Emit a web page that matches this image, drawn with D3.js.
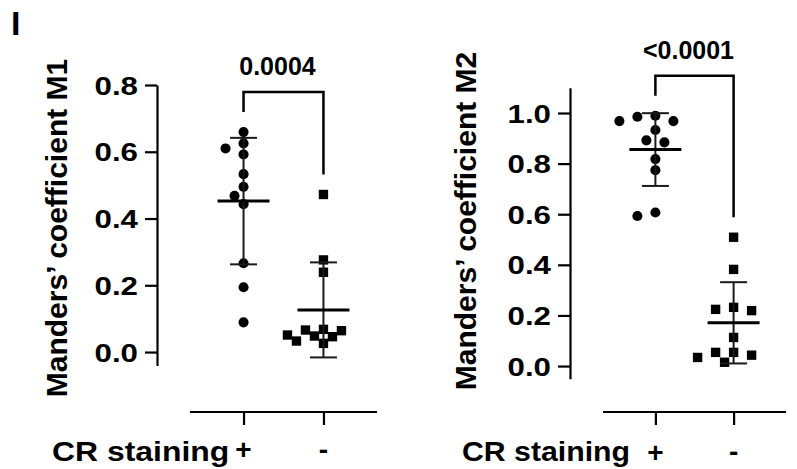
<!DOCTYPE html>
<html>
<head>
<meta charset="utf-8">
<script src="https://cdn.jsdelivr.net/npm/d3@7"></script>
<style>
  body { margin: 0; background: #fff; }
  text { font-family: "Liberation Sans", Arial, sans-serif; font-weight: bold; fill: #000; }
</style>
</head>
<body>
<script>
const width = 797;
const height = 469;

// data
const groups = ["+", "-"];
const m1Pos = [0.659, 0.625, 0.610, 0.592, 0.533, 0.495, 0.468, 0.443, 0.266, 0.194, 0.089];
const m1Neg = [0.472, 0.276, 0.239, 0.068, 0.066, 0.064, 0.051, 0.048, 0.046, 0.033, 0.026];
const m2Pos = [0.989, 0.985, 0.968, 0.968, 0.933, 0.892, 0.884, 0.818, 0.774, 0.607, 0.593];
const m2Neg = [0.509, 0.382, 0.232, 0.224, 0.219, 0.113, 0.054, 0.054, 0.043, 0.034, 0.015];
const m1Ticks = [0, 0.2, 0.4, 0.6, 0.8];
const m2Ticks = [0, 0.2, 0.4, 0.6, 0.8, 1.0];
const pValues = ["0.0004", "<0.0001"];
const titles = ["Manders\u2019 coefficient M1", "Manders\u2019 coefficient M2"];

const svg = d3.select("body")
  .append("svg")
    .attr("width", width)
    .attr("height", height);

// widen a text horizontally (the figure's lettering is a bit wider than Arial)
function widen(sel, f) {
  sel.each(function() {
    let w = this.getComputedTextLength();
    d3.select(this).attr("textLength", w * f).attr("lengthAdjust", "spacingAndGlyphs");
  });
}

svg.append("text")
  .attr("x", 11)
  .attr("y", 35)
  .style("font-size", "34px")
  .text("I");

// layout of each panel
const panels = [
  { data: [m1Pos, m1Neg], ticks: m1Ticks, domain: [-0.04, 0.8], yRange: [365.4, 85],
    axisX: 157, xRange: [190, 377], baseY: 412, titleX: 67, titleY: 228,
    title: titles[0], p: pValues[0], labelY: [459, 459], crX: 52, crWiden: 1.14 },
  { data: [m2Pos, m2Neg], ticks: m2Ticks, domain: [-0.05, 1.1], yRange: [378.7, 87.7],
    axisX: 570, xRange: [603, 786], baseY: 412, titleX: 476, titleY: 221,
    title: titles[1], p: pValues[1], labelY: [462, 461], crX: 462, crWiden: 1.08 }
];

function swarm(values, y, cx, step, minDist) {
  const placed = [];
  const out = new Array(values.length);
  const order = d3.range(values.length).sort((a, b) => values[b] - values[a]);
  order.forEach(i => {
    const py = y(values[i]);
    for (let k = 0; k < 20; k++) {
      const off = k === 0 ? 0 : (k % 2 ? -1 : 1) * Math.ceil(k / 2) * step;
      const ok = placed.every(p => Math.hypot(p[0] - off, p[1] - py) >= minDist);
      if (ok) { placed.push([off, py]); out[i] = cx + off; break; }
    }
  });
  return out;
}

panels.forEach(function(pn) {
  let y = d3.scaleLinear().domain(pn.domain).range(pn.yRange);
  let x = d3.scalePoint().domain(groups).range(pn.xRange).padding(0.67);

  // y axis
  let ya = svg.append("g")
    .attr("transform", "translate(" + pn.axisX + ",0)")
    .call(d3.axisLeft(y).tickValues(pn.ticks).tickSize(12).tickSizeOuter(0).tickPadding(7)
      .tickFormat(d3.format(".1f")));
  ya.select(".domain").attr("stroke", "#000").attr("stroke-width", 2.2);
  ya.selectAll(".tick line").attr("stroke", "#000").attr("stroke-width", 2.2);
  ya.selectAll(".tick text").style("font-size", "25px").attr("dy", "0.36em");
  widen(ya.selectAll(".tick text"), 1.25);

  // x axis
  let xa = svg.append("g")
    .attr("transform", "translate(0," + pn.baseY + ")")
    .call(d3.axisBottom(x).tickSize(13).tickSizeOuter(0).tickFormat(""));
  xa.select(".domain").attr("stroke", "#000").attr("stroke-width", 2.2)
    .attr("d", "M" + pn.xRange[0] + ",0H" + pn.xRange[1]);
  xa.selectAll(".tick line").attr("stroke", "#000").attr("stroke-width", 2.2);

  groups.forEach(function(g, gi) {
    svg.append("text")
      .attr("x", x(g))
      .attr("y", pn.labelY[gi])
      .attr("text-anchor", "middle")
      .style("font-size", "28px")
      .text(g);
  });

  let cr = svg.append("text")
    .attr("x", pn.crX)
    .attr("y", 461)
    .style("font-size", "28px")
    .text("CR staining");
  widen(cr, pn.crWiden);

  // y title
  svg.append("text")
    .attr("transform", "translate(" + pn.titleX + "," + pn.titleY + ") rotate(-90)")
    .attr("text-anchor", "middle")
    .style("font-size", "30px")
    .text(pn.title);

  // points + mean/SD
  pn.data.forEach(function(vals, gi) {
    let cx = x(groups[gi]);
    let xs = swarm(vals, y, cx, 9, 10.5);
    let sym = d3.symbol()
      .type(gi === 0 ? d3.symbolCircle : d3.symbolSquare)
      .size(gi === 0 ? 80 : 88);
    svg.append("g").selectAll("path")
      .data(vals)
      .enter()
      .append("path")
        .attr("d", sym)
        .attr("transform", (d, i) => "translate(" + xs[i] + "," + y(d) + ")")
        .attr("fill", "#000");

    let m = d3.mean(vals), sd = d3.deviation(vals);
    let eb = svg.append("g").attr("stroke", "#1a1a1a").attr("stroke-width", 2);
    eb.append("line").attr("x1", cx).attr("x2", cx).attr("y1", y(m + sd)).attr("y2", y(m - sd));
    eb.append("line").attr("x1", cx - 13.5).attr("x2", cx + 13.5).attr("y1", y(m + sd)).attr("y2", y(m + sd));
    eb.append("line").attr("x1", cx - 13.5).attr("x2", cx + 13.5).attr("y1", y(m - sd)).attr("y2", y(m - sd));
    eb.append("line").attr("x1", cx - 26).attr("x2", cx + 26).attr("y1", y(m)).attr("y2", y(m))
      .attr("stroke", "#000").attr("stroke-width", 3);
  });

  // significance bracket
  let legA = y(d3.max(pn.data[0])) - 20;
  let legB = y(d3.max(pn.data[1])) - 20;
  let top = Math.min(legA, legB) - 20;
  let xA = x(groups[0]), xB = x(groups[1]);
  svg.append("path")
    .attr("d", "M" + xA + "," + legA + "V" + top + "H" + xB + "V" + legB)
    .attr("fill", "none")
    .attr("stroke", "#000")
    .attr("stroke-width", 2.5);
  svg.append("text")
    .attr("x", (xA + xB) / 2 - 6)
    .attr("y", top - 17)
    .attr("text-anchor", "middle")
    .style("font-size", "25px")
    .text(pn.p);
});
</script>
</body>
</html>
